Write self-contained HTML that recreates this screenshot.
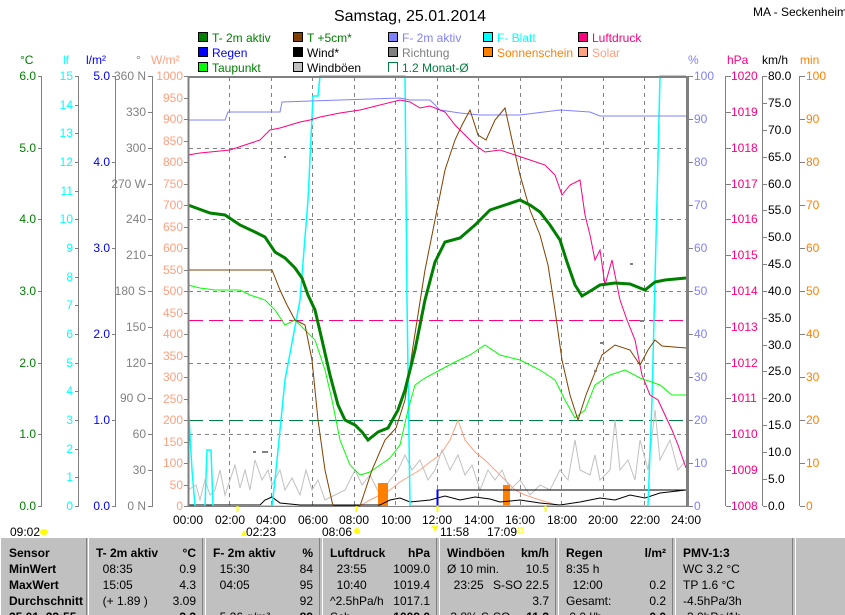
<!DOCTYPE html>
<html><head><meta charset="utf-8"><style>
body{margin:0;background:#fff;width:845px;height:615px;overflow:hidden;font-family:"Liberation Sans",sans-serif}
svg{position:absolute;left:0;top:0}
.t{position:absolute;top:538px;height:77px;left:0;width:845px;background:#c0c0c0;overflow:hidden}
.c{position:absolute;top:0;height:84px;border-left:1px solid #fff;border-right:1px solid #808080;font-size:12px;font-weight:bold;line-height:16px;padding-top:7px}
.c div{position:relative;height:16px;white-space:nowrap}
.r{position:absolute;right:6px}
.n{font-weight:normal}
</style></head><body>
<svg width="845" height="538" font-family="Liberation Sans, sans-serif" font-size="12">
<text x="410" y="21" font-size="16" text-anchor="middle">Samstag, 25.01.2014</text>
<text x="753" y="16" font-size="12">MA - Seckenheim</text>
<g font-size="12">
<rect x="198.5" y="32.5" width="9" height="9" fill="#008000" stroke="#000"/><text x="212" y="42" fill="#008000">T- 2m aktiv</text>
<rect x="198.5" y="47.5" width="9" height="9" fill="#0000ff" stroke="#000"/><text x="212" y="57" fill="#0000ff">Regen</text>
<rect x="198.5" y="62.5" width="9" height="9" fill="#00ff00" stroke="#000"/><text x="212" y="72" fill="#008000">Taupunkt</text>
<rect x="293.5" y="32.5" width="9" height="9" fill="#804000" stroke="#000"/><text x="307" y="42" fill="#008000">T +5cm*</text>
<rect x="293.5" y="47.5" width="9" height="9" fill="#000" stroke="#000"/><text x="307" y="57">Wind*</text>
<rect x="293.5" y="62.5" width="9" height="9" fill="#c0c0c0" stroke="#000"/><text x="307" y="72">Windböen</text>
<rect x="388.5" y="32.5" width="9" height="9" fill="#8080ff" stroke="#000"/><text x="402" y="42" fill="#8080ff">F- 2m aktiv</text>
<rect x="388.5" y="47.5" width="9" height="9" fill="#808080" stroke="#000"/><text x="402" y="57" fill="#808080">Richtung</text>
<path d="M388.5 72V62.5H397.5V72" fill="none" stroke="#008040"/><text x="402" y="72" fill="#008040">1.2 Monat-Ø</text>
<rect x="483.5" y="32.5" width="9" height="9" fill="#00ffff" stroke="#000"/><text x="497" y="42" fill="#00ffff">F- Blatt</text>
<rect x="483.5" y="47.5" width="9" height="9" fill="#ff8000" stroke="#000"/><text x="497" y="57" fill="#ff8000">Sonnenschein</text>
<rect x="578.5" y="32.5" width="9" height="9" fill="#ff0080" stroke="#000"/><text x="592" y="42" fill="#ff0080">Luftdruck</text>
<rect x="578.5" y="47.5" width="9" height="9" fill="#ffa080" stroke="#000"/><text x="592" y="57" fill="#ffa080">Solar</text>
</g>
<text x="20" y="64" fill="#008000">°C</text>
<text x="63" y="64" fill="#00ffff">lf</text>
<text x="86" y="64" fill="#0000ff">l/m²</text>
<text x="136" y="64" fill="#808080">°</text>
<text x="151" y="64" fill="#ffa080">W/m²</text>
<text x="688" y="64" fill="#8080ff">%</text>
<text x="727" y="64" fill="#ff0080">hPa</text>
<text x="762" y="64">km/h</text>
<text x="800" y="64" fill="#ff8000">min</text>
<g stroke="#808080" stroke-width="1">
<line x1="41.5" y1="76" x2="41.5" y2="506"/><line x1="78.5" y1="76" x2="78.5" y2="506"/>
<line x1="115.5" y1="76" x2="115.5" y2="506"/><line x1="152.5" y1="76" x2="152.5" y2="506"/>
<line x1="725.5" y1="76" x2="725.5" y2="506"/><line x1="762.5" y1="76" x2="762.5" y2="506"/>
<line x1="799.5" y1="76" x2="799.5" y2="506"/>
</g>
<g fill="#008000" text-anchor="end">
<text x="36" y="80">6.0</text><text x="36" y="152">5.0</text><text x="36" y="223">4.0</text><text x="36" y="295">3.0</text><text x="36" y="367">2.0</text><text x="36" y="438">1.0</text><text x="36" y="510">0.0</text>
</g>
<path stroke="#808080" d="M38 76.5h4M38 148.5h4M38 219.5h4M38 291.5h4M38 363.5h4M38 434.5h4M38 506.5h4"/>
<g fill="#00ffff" text-anchor="end">
<text x="73" y="80">15</text><text x="73" y="109">14</text><text x="73" y="137">13</text><text x="73" y="166">12</text><text x="73" y="195">11</text><text x="73" y="223">10</text><text x="73" y="252">9</text><text x="73" y="281">8</text><text x="73" y="309">7</text><text x="73" y="338">6</text><text x="73" y="367">5</text><text x="73" y="395">4</text><text x="73" y="424">3</text><text x="73" y="453">2</text><text x="73" y="481">1</text><text x="73" y="510">0</text>
</g>
<path stroke="#808080" d="M75 76.5h4M75 105.5h4M75 133.5h4M75 162.5h4M75 191.5h4M75 219.5h4M75 248.5h4M75 277.5h4M75 305.5h4M75 334.5h4M75 363.5h4M75 391.5h4M75 420.5h4M75 449.5h4M75 477.5h4M75 506.5h4"/>
<g fill="#0000ff" text-anchor="end">
<text x="110" y="80">5.0</text><text x="110" y="166">4.0</text><text x="110" y="252">3.0</text><text x="110" y="338">2.0</text><text x="110" y="424">1.0</text><text x="110" y="510">0.0</text>
</g>
<path stroke="#808080" d="M112 76.5h4M112 162.5h4M112 248.5h4M112 334.5h4M112 420.5h4M112 506.5h4"/>
<g fill="#808080" text-anchor="end">
<text x="146" y="80">360 N</text><text x="146" y="116">330</text><text x="146" y="152">300</text><text x="146" y="188">270 W</text><text x="146" y="223">240</text><text x="146" y="259">210</text><text x="146" y="295">180 S</text><text x="146" y="331">150</text><text x="146" y="367">120</text><text x="146" y="402">90  O</text><text x="146" y="438">60</text><text x="146" y="474">30</text><text x="146" y="510">0   N</text>
</g>
<path stroke="#808080" d="M148 76.5h5M148 112.5h5M148 148.5h5M148 184.5h5M148 219.5h5M148 255.5h5M148 291.5h5M148 327.5h5M148 363.5h5M148 398.5h5M148 434.5h5M148 470.5h5M148 506.5h5"/>
<g fill="#ffa080" text-anchor="end">
<text x="183" y="80">1000</text><text x="183" y="102">950</text><text x="183" y="123">900</text><text x="183" y="145">850</text><text x="183" y="166">800</text><text x="183" y="188">750</text><text x="183" y="209">700</text><text x="183" y="231">650</text><text x="183" y="252">600</text><text x="183" y="274">550</text><text x="183" y="295">500</text><text x="183" y="317">450</text><text x="183" y="338">400</text><text x="183" y="360">350</text><text x="183" y="381">300</text><text x="183" y="403">250</text><text x="183" y="424">200</text><text x="183" y="446">150</text><text x="183" y="467">100</text><text x="183" y="489">50</text><text x="183" y="510">0</text>
</g>
<path stroke="#808080" d="M184 76.5h5M184 98.5h5M184 119.5h5M184 141.5h5M184 162.5h5M184 184.5h5M184 205.5h5M184 227.5h5M184 248.5h5M184 270.5h5M184 291.5h5M184 313.5h5M184 334.5h5M184 356.5h5M184 377.5h5M184 399.5h5M184 420.5h5M184 442.5h5M184 463.5h5M184 485.5h5M184 506.5h5"/>
<g fill="#8080ff">
<text x="694" y="80">100</text><text x="694" y="123">90</text><text x="694" y="166">80</text><text x="694" y="209">70</text><text x="694" y="252">60</text><text x="694" y="295">50</text><text x="694" y="338">40</text><text x="694" y="381">30</text><text x="694" y="424">20</text><text x="694" y="467">10</text><text x="694" y="510">0</text>
</g>
<path stroke="#808080" d="M688 76.5h5M688 119.5h5M688 162.5h5M688 205.5h5M688 248.5h5M688 291.5h5M688 334.5h5M688 377.5h5M688 420.5h5M688 463.5h5M688 506.5h5"/>
<g fill="#ff0080">
<text x="731" y="80">1020</text><text x="731" y="116">1019</text><text x="731" y="152">1018</text><text x="731" y="188">1017</text><text x="731" y="223">1016</text><text x="731" y="259">1015</text><text x="731" y="295">1014</text><text x="731" y="331">1013</text><text x="731" y="367">1012</text><text x="731" y="402">1011</text><text x="731" y="438">1010</text><text x="731" y="474">1009</text><text x="731" y="510">1008</text>
</g>
<path stroke="#808080" d="M726 76.5h5M726 112.5h5M726 148.5h5M726 184.5h5M726 219.5h5M726 255.5h5M726 291.5h5M726 327.5h5M726 363.5h5M726 398.5h5M726 434.5h5M726 470.5h5M726 506.5h5"/>
<g fill="#000">
<text x="768" y="80">80.0</text><text x="768" y="107">75.0</text><text x="768" y="134">70.0</text><text x="768" y="161">65.0</text><text x="768" y="188">60.0</text><text x="768" y="214">55.0</text><text x="768" y="241">50.0</text><text x="768" y="268">45.0</text><text x="768" y="295">40.0</text><text x="768" y="322">35.0</text><text x="768" y="349">30.0</text><text x="768" y="375">25.0</text><text x="768" y="402">20.0</text><text x="768" y="429">15.0</text><text x="768" y="456">10.0</text><text x="768" y="483">5.0</text><text x="768" y="510">0.0</text>
</g>
<path stroke="#808080" d="M763 76.5h4M763 103.5h4M763 130.5h4M763 157.5h4M763 184.5h4M763 210.5h4M763 237.5h4M763 264.5h4M763 291.5h4M763 318.5h4M763 345.5h4M763 371.5h4M763 398.5h4M763 425.5h4M763 452.5h4M763 479.5h4M763 506.5h4"/>
<g fill="#ff8000">
<text x="806" y="80">100</text><text x="806" y="123">90</text><text x="806" y="166">80</text><text x="806" y="209">70</text><text x="806" y="252">60</text><text x="806" y="295">50</text><text x="806" y="338">40</text><text x="806" y="381">30</text><text x="806" y="424">20</text><text x="806" y="467">10</text><text x="806" y="510">0</text>
</g>
<path stroke="#808080" d="M800 76.5h5M800 119.5h5M800 162.5h5M800 205.5h5M800 248.5h5M800 291.5h5M800 334.5h5M800 377.5h5M800 420.5h5M800 463.5h5M800 506.5h5"/>
<g stroke="#808080" stroke-dasharray="4,4" stroke-width="1">
<path d="M229.5 77V506M271.5 77V506M312.5 77V506M354.5 77V506M395.5 77V506M437.5 77V506M478.5 77V506M520.5 77V506M561.5 77V506M603.5 77V506M644.5 77V506"/>
<path d="M189 148.5H686M189 219.5H686M189 291.5H686M189 363.5H686M189 434.5H686"/>
</g>
<line x1="189" y1="320.5" x2="686" y2="320.5" stroke="#ff0080" stroke-dasharray="14,6"/>
<line x1="189" y1="420.5" x2="686" y2="420.5" stroke="#008040" stroke-dasharray="14,6"/>
<polyline fill="none" stroke="#ffa080" points="188,506 360,506 370,500 380,495 390,490 400,482 410,476 420,470 430,462 440,455 450,440 458,420 465,440 475,452 485,460 495,470 505,480 515,490 525,495 540,500 560,506 686,506"/>
<polyline fill="none" stroke="#c0c0c0" points="188,490 196,485 200,500 205,480 210,495 215,490 220,470 225,495 230,480 235,465 240,488 245,470 250,490 255,460 262,480 268,470 272,485 280,470 285,490 292,478 300,495 306,470 312,490 318,480 325,500 335,495 345,490 355,470 362,485 370,475 380,495 390,480 398,470 405,455 412,470 420,460 428,480 435,470 442,450 450,470 458,455 465,475 472,465 480,490 488,470 495,480 502,470 510,490 520,480 530,495 540,485 550,490 560,470 568,480 575,440 580,470 590,475 595,455 600,480 610,470 615,420 620,470 628,460 635,480 640,440 648,470 655,410 660,460 670,440 678,470 686,460"/>
<rect x="378" y="483" width="10" height="23" fill="#ff8000"/>
<rect x="503" y="485" width="7" height="21" fill="#ff8000"/>
<polyline fill="none" stroke="#000" points="188,505 260,505 265,500 272,497 280,503 300,505 380,505 390,500 400,498 410,502 430,500 445,496 460,500 475,497 490,499 500,502 520,500 540,503 560,505 580,502 600,498 615,500 630,495 645,498 660,493 686,490"/>
<polyline fill="none" stroke="#000" points="437,506 437,490 686,490"/>
<line x1="437.5" y1="490" x2="437.5" y2="506" stroke="#0000ff" stroke-width="2"/>
<polyline fill="none" stroke="#00ffff" stroke-width="1.5" points="188,400 192,470 195,506 205,506 207,450 211,450 213,506 272,506 275,480 285,380 300,300 308,200 313,96 318,96 320,76 405,76 407,300 410,506 648,506 652,400 657,200 660,76 686,76"/>
<polyline fill="none" stroke="#8080ff" points="188,120 225,120 228,112 280,112 282,102 340,100 400,98 410,100 430,100 440,110 460,113 480,115 520,115 560,110 590,112 600,116 686,116"/>
<polyline fill="none" stroke="#ff0080" points="188,155 200,153 230,150 245,145 260,140 270,130 280,128 290,125 300,122 310,120 320,117 340,113 360,110 380,105 400,100 410,102 420,108 430,106 445,112 455,125 465,135 475,145 485,152 500,150 515,155 530,160 545,165 555,175 562,195 570,185 580,180 585,215 590,235 595,260 600,250 605,285 612,260 620,300 627,320 635,340 642,375 650,395 658,400 665,415 672,430 678,445 686,468"/>
<polyline fill="none" stroke="#00ff00" points="188,285 200,288 215,290 240,290 250,295 265,300 275,310 285,325 295,320 305,330 315,340 325,370 332,400 340,440 350,465 360,475 370,472 380,465 390,458 400,445 408,410 415,385 425,378 440,370 455,362 470,355 485,345 500,355 520,360 540,370 555,380 565,400 575,418 585,410 595,385 610,375 625,370 640,378 660,385 672,395 686,395"/>
<polyline fill="none" stroke="#804000" points="188,270 272,270 280,290 287,305 295,320 305,325 312,360 318,420 325,470 333,506 360,506 372,470 385,440 396,428 405,400 414,340 425,270 435,220 445,170 455,140 462,125 470,110 478,135 486,140 495,120 505,108 512,140 520,175 530,210 540,235 548,265 555,310 562,360 570,395 578,420 586,395 594,375 602,355 615,345 630,350 640,365 648,350 655,340 662,346 686,348"/>
<polyline fill="none" stroke="#008000" stroke-width="3" points="188,205 210,213 225,215 240,225 255,232 265,237 275,252 285,258 295,268 302,278 308,295 315,310 322,340 330,375 338,405 345,420 355,425 362,432 368,440 378,432 388,428 398,410 405,390 415,350 425,300 435,262 445,242 460,238 475,225 490,210 505,205 520,200 530,205 540,212 550,225 560,240 567,262 575,285 582,296 592,290 600,285 615,283 630,284 645,290 655,282 665,280 686,278"/>
<g fill="#808080"><rect x="253" y="451" width="3" height="2"/><rect x="262" y="451" width="6" height="2"/><rect x="284" y="156" width="2" height="2"/><rect x="594" y="370" width="3" height="2"/><rect x="630" y="263" width="3" height="2"/><rect x="640" y="320" width="4" height="2"/><rect x="600" y="342" width="4" height="2"/></g>
<path d="M188 77H686" stroke="#808080" stroke-width="2"/>
<path d="M188.5 76V507" stroke="#808080" stroke-width="2"/>
<path d="M687.5 76V507" stroke="#808080" stroke-width="3"/>
<path d="M188 506.5H688" stroke="#808080" stroke-width="1"/>
<g text-anchor="middle" font-size="12">
<text x="188" y="524">00:00</text><text x="230" y="524">02:00</text><text x="271" y="524">04:00</text><text x="313" y="524">06:00</text><text x="354" y="524">08:00</text><text x="396" y="524">10:00</text><text x="437" y="524">12:00</text><text x="479" y="524">14:00</text><text x="520" y="524">16:00</text><text x="562" y="524">18:00</text><text x="603" y="524">20:00</text><text x="645" y="524">22:00</text><text x="686" y="524">24:00</text>
</g>
<path d="M237.5 506V512M356.5 506V512M437.5 506V512M545.5 506V512" stroke="#ffff00" stroke-width="2"/>
<g font-size="12">
<text x="10" y="536">09:02</text><ellipse cx="44" cy="532" rx="4" ry="3" fill="#ffff00"/>
<text x="246" y="536">02:23</text><path d="M241 536l3-6 3 6z" fill="#ffff00"/>
<text x="322" y="536">08:06</text><circle cx="357" cy="531" r="3" fill="#ffff00"/>
<text x="440" y="536">11:58</text><path d="M432 526l3 6 3-6z" fill="#ffff00"/>
<text x="487" y="536">17:09</text><rect x="518" y="528" width="5" height="5" fill="none" stroke="#ffff00"/>
</g>
</svg>
<div class="t">
<div class="c" style="left:0;width:87px;padding-left:8px;box-sizing:border-box"><div>Sensor</div><div>MinWert</div><div>MaxWert</div><div>Durchschnitt</div><div>25.01. 23:55</div></div>
<div class="c" style="left:88px;width:115px;padding-left:7px;box-sizing:border-box"><div>T- 2m aktiv<span class="r">°C</span></div><div class="n">&nbsp;&nbsp;08:35<span class="r">0.9</span></div><div class="n">&nbsp;&nbsp;15:05<span class="r">4.3</span></div><div class="n">&nbsp;&nbsp;(+ 1.89 )<span class="r">3.09</span></div><div><span class="r">3.3</span></div></div>
<div class="c" style="left:205px;width:115px;padding-left:7px;box-sizing:border-box"><div>F- 2m aktiv<span class="r">%</span></div><div class="n">&nbsp;&nbsp;15:30<span class="r">84</span></div><div class="n">&nbsp;&nbsp;04:05<span class="r">95</span></div><div class="n"><span class="r">92</span></div><div class="n">&nbsp;&nbsp;5.26 g/m³<span class="r" style="font-weight:bold">89</span></div></div>
<div class="c" style="left:322px;width:115px;padding-left:7px;box-sizing:border-box"><div>Luftdruck<span class="r">hPa</span></div><div class="n">&nbsp;&nbsp;23:55<span class="r">1009.0</span></div><div class="n">&nbsp;&nbsp;10:40<span class="r">1019.4</span></div><div class="n">^2.5hPa/h<span class="r">1017.1</span></div><div class="n">Sch.<span class="r" style="font-weight:bold">1009.0</span></div></div>
<div class="c" style="left:439px;width:117px;padding-left:7px;box-sizing:border-box"><div>Windböen<span class="r">km/h</span></div><div class="n">Ø 10 min.<span class="r">10.5</span></div><div class="n">&nbsp;&nbsp;23:25<span class="r">S-SO 22.5</span></div><div class="n"><span class="r">3.7</span></div><div class="n">&nbsp;3.8% S-SO<span class="r" style="font-weight:bold">11.3</span></div></div>
<div class="c" style="left:558px;width:115px;padding-left:7px;box-sizing:border-box"><div>Regen<span class="r">l/m²</span></div><div class="n">8:35 h</div><div class="n">&nbsp;&nbsp;12:00<span class="r">0.2</span></div><div class="n">Gesamt:<span class="r">0.2</span></div><div class="n">&nbsp;0.0 l/h<span class="r" style="font-weight:bold">0.0</span></div></div>
<div class="c" style="left:675px;width:118px;padding-left:7px;box-sizing:border-box"><div>PMV-1:3</div><div class="n">WC 3.2 °C</div><div class="n">TP 1.6 °C</div><div class="n">-4.5hPa/3h</div><div class="n">-3.0hPa/1h</div></div>
<div class="c" style="left:795px;width:50px;border-right:none"></div>
</div>
</body></html>
